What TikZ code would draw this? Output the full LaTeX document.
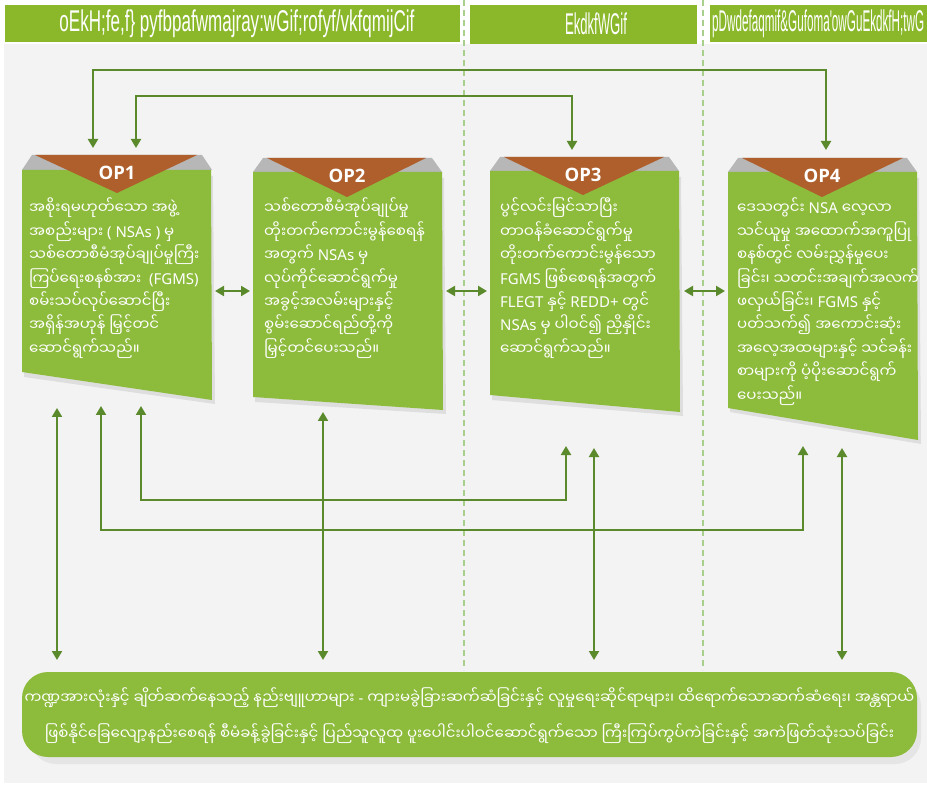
\documentclass[tikz,border=0pt]{standalone}
\usepackage{fontspec}
\setmainfont{Noto Sans}
\newfontfamily\mm[Script=Myanmar]{Noto Sans Myanmar UI}
\newfontfamily\lat{Noto Sans}
\newfontfamily\opf{Open Sans}
\newfontfamily\hdr{Liberation Sans}
\usetikzlibrary{arrows.meta}
\definecolor{hdrgreen}{HTML}{8BB82B}
\definecolor{boxgreen}{HTML}{8DBB3C}
\definecolor{brownop}{HTML}{AE5F2C}
\definecolor{arrowgreen}{HTML}{5A8A2B}
\definecolor{bggray}{HTML}{F3F3F3}
\definecolor{dashgreen}{HTML}{A8CF8C}
\definecolor{ribbon}{HTML}{B7B7B7}
\newcommand\LT[1]{{\lat #1}}
\tikzset{
  boxtext/.style={anchor=north west, align=left, inner sep=0pt, text=white,
    font=\mm\fontsize{15}{23.4}\selectfont},
  oplabel/.style={inner sep=0pt, text=white, font=\opf\bfseries\fontsize{18.5}{18.5}\selectfont},
  hdrtext/.style={inner sep=0pt, text=white, font=\hdr\fontsize{30}{30}\selectfont},
  conn/.style={draw=arrowgreen, line width=2pt},
  tip/.tip={Triangle[length=9pt,width=10pt]},
  sarr/.style={conn, -tip},
  darr/.style={conn, tip-tip},
  vdash/.style={draw=dashgreen, line width=1.4pt, dash pattern=on 6pt off 4pt},
  shadowpoly/.style={fill=black!13},
}
\begin{document}
\begin{tikzpicture}[x=1pt,y=-1pt]
\useasboundingbox (0,0) rectangle (927,786);
\fill[white] (0,0) rectangle (927,786);
\fill[bggray] (4,44) rectangle (927,783);
% dashed separators
\coordinate (d1t) at (464,0); \coordinate (d1b) at (464,670);
\coordinate (d2t) at (703,0); \coordinate (d2b) at (703,670);
\draw[vdash] (d1t) -- (d1b);
\draw[vdash] (d2t) -- (d2b);
% headers
\fill[hdrgreen] (5,5) rectangle (460,42);
\fill[hdrgreen] (470,5) rectangle (697,44);
\fill[hdrgreen] (710,5) rectangle (927,42);
\node[hdrtext] (h1) at (237,24) {\resizebox{355pt}{\height}{oEkH;fe,f\} pyfbpafwmajray:wGif;rofyf/vkfqmijCif}};
\node[hdrtext] (h2) at (596,24) {\resizebox{62pt}{\height}{EkdkfWGif}};
\node[hdrtext, anchor=west] (h3) at (712,24) {\resizebox{212pt}{\height}{pDwdefaqmif\&Gufoma'owGuEkdkfH;twG}};
% bottom box
\fill[black!10] (30,680) [rounded corners=26pt] rectangle (921,764);
\fill[boxgreen, rounded corners=26pt] (22,672) rectangle (917,757);
\node (bot) at (469.5,716) [align=center, inner sep=0pt, text=white, font=\mm\fontsize{15}{36}\selectfont]
{ကဏ္ဍအားလုံးနှင့် ချိတ်ဆက်နေသည့် နည်းဗျူဟာများ \LT{-} ကျားမခွဲခြားဆက်ဆံခြင်းနှင့် လူမှုရေးဆိုင်ရာများ၊ ထိရောက်သောဆက်ဆံရေး၊ အန္တရာယ်\\
ဖြစ်နိုင်ခြေလျော့နည်းစေရန် စီမံခန့်ခွဲခြင်းနှင့် ပြည်သူလူထု ပူးပေါင်းပါဝင်ဆောင်ရွက်သော ကြီးကြပ်ကွပ်ကဲခြင်းနှင့် အကဲဖြတ်သုံးသပ်ခြင်း};
% ---------- OP boxes ----------
% OP1
\fill[shadowpoly] (24,176) -- (213,176) -- (215,404) -- (24,377) -- cycle;
\fill[ribbon] (32,155) -- (202,155) -- (212,170) -- (22,170) -- cycle;
\fill[boxgreen] (22,170) -- (211,170) -- (212,400) -- (22,372) -- cycle;
\fill[brownop] (35,155) -- (197,155) -- (117,193) -- cycle;
\node[oplabel] (op1) at (117,173) {OP1};
\node[boxtext] (t1) at (29,198) {အစိုးရမဟုတ်သော အဖွဲ့\\
အစည်းများ \LT{( NSAs )} မှ\\
သစ်တောစီမံအုပ်ချုပ်မှုကြီး\\
ကြပ်ရေးစနစ်အား \LT{~(FGMS)}\\
စမ်းသပ်လုပ်ဆောင်ပြီး\\
အရှိန်အဟုန် မြှင့်တင်\\
ဆောင်ရွက်သည်။};
% OP2
\fill[shadowpoly] (255,178) -- (444,178) -- (446,414) -- (255,402) -- cycle;
\fill[ribbon] (263,158) -- (432,158) -- (442,172) -- (253,172) -- cycle;
\fill[boxgreen] (253,172) -- (442,172) -- (443,410) -- (253,397) -- cycle;
\fill[brownop] (267,158) -- (426,158) -- (347,197) -- cycle;
\node[oplabel] (op2) at (347,176) {OP2};
\node[boxtext] (t2) at (264,198) {သစ်တောစီမံအုပ်ချုပ်မှု\\
တိုးတက်ကောင်းမွန်စေရန်\\
အတွက် \LT{NSAs} မှ\\
လုပ်ကိုင်ဆောင်ရွက်မှု\\
အခွင့်အလမ်းများနှင့်\\
စွမ်းဆောင်ရည်တို့ကို\\
မြှင့်တင်ပေးသည်။};
% OP3
\fill[shadowpoly] (492,177) -- (681,177) -- (683,416) -- (492,400) -- cycle;
\fill[ribbon] (500,157) -- (669,157) -- (679,171) -- (490,171) -- cycle;
\fill[boxgreen] (490,171) -- (679,171) -- (680,412) -- (490,395) -- cycle;
\fill[brownop] (504,157) -- (664,157) -- (583,195) -- cycle;
\node[oplabel] (op3) at (583,175) {OP3};
\node[boxtext] (t3) at (500,198) {ပွင့်လင်းမြင်သာပြီး\\
တာဝန်ခံဆောင်ရွက်မှု\\
တိုးတက်ကောင်းမွန်သော\\
\LT{FGMS} ဖြစ်စေရန်အတွက်\\
\LT{FLEGT} နှင့် \LT{REDD+} တွင်\\
\LT{NSAs} မှ ပါဝင်၍ ညှိနှိုင်း\\
ဆောင်ရွက်သည်။};
% OP4
\fill[shadowpoly] (730,178) -- (919,178) -- (921,444) -- (730,412) -- cycle;
\fill[ribbon] (738,158) -- (907,158) -- (917,172) -- (728,172) -- cycle;
\fill[boxgreen] (728,172) -- (917,172) -- (918,440) -- (728,408) -- cycle;
\fill[brownop] (742,158) -- (903,158) -- (822,197) -- cycle;
\node[oplabel] (op4) at (822,176) {OP4};
\node[boxtext] (t4) at (737,198) {ဒေသတွင်း \LT{NSA} လေ့လာ\\
သင်ယူမှု အထောက်အကူပြု\\
စနစ်တွင် လမ်းညွှန်မှုပေး\\
ခြင်း၊ သတင်းအချက်အလက်\\
ဖလှယ်ခြင်း၊ \LT{FGMS} နှင့်\\
ပတ်သက်၍ အကောင်းဆုံး\\
အလေ့အထများနှင့် သင်ခန်း\\
စာများကို ပံ့ပိုးဆောင်ရွက်\\
ပေးသည်။};
% ---------- connectors ----------
% horizontal double arrows between boxes
\coordinate (a12) at (215,291); \coordinate (b12) at (250,291);
\coordinate (a23) at (446,291); \coordinate (b23) at (487,291);
\coordinate (a34) at (684,291); \coordinate (b34) at (725,291);
\draw[darr] (a12) -- (b12);
\draw[darr] (a23) -- (b23);
\draw[darr] (a34) -- (b34);
% top connectors
\coordinate (p1top) at (93,148); \coordinate (p4top) at (826,150);
\coordinate (outer) at (400,70);
\draw[darr] (p1top) |- (outer) -| (p4top);
\coordinate (q1top) at (136,148); \coordinate (q3top) at (572,150);
\coordinate (inner) at (300,96);
\draw[darr] (q1top) |- (inner) -| (q3top);
% bottom connectors
\coordinate (r1bot) at (101,406); \coordinate (r4bot) at (803,446);
\coordinate (rlow) at (400,530);
\draw[darr] (r1bot) |- (rlow) -| (r4bot);
\coordinate (s1bot) at (141,406); \coordinate (s3bot) at (566,446);
\coordinate (slow) at (300,500);
\draw[darr] (s1bot) |- (slow) -| (s3bot);
% vertical double arrows to bottom box
\coordinate (v1a) at (57,408); \coordinate (v1b) at (57,660);
\coordinate (v2a) at (323,412); \coordinate (v2b) at (323,660);
\coordinate (v3a) at (594,448); \coordinate (v3b) at (594,660);
\coordinate (v4a) at (842,448); \coordinate (v4b) at (842,660);
\draw[darr] (v1a) -- (v1b);
\draw[darr] (v2a) -- (v2b);
\draw[darr] (v3a) -- (v3b);
\draw[darr] (v4a) -- (v4b);
\end{tikzpicture}
\end{document}
